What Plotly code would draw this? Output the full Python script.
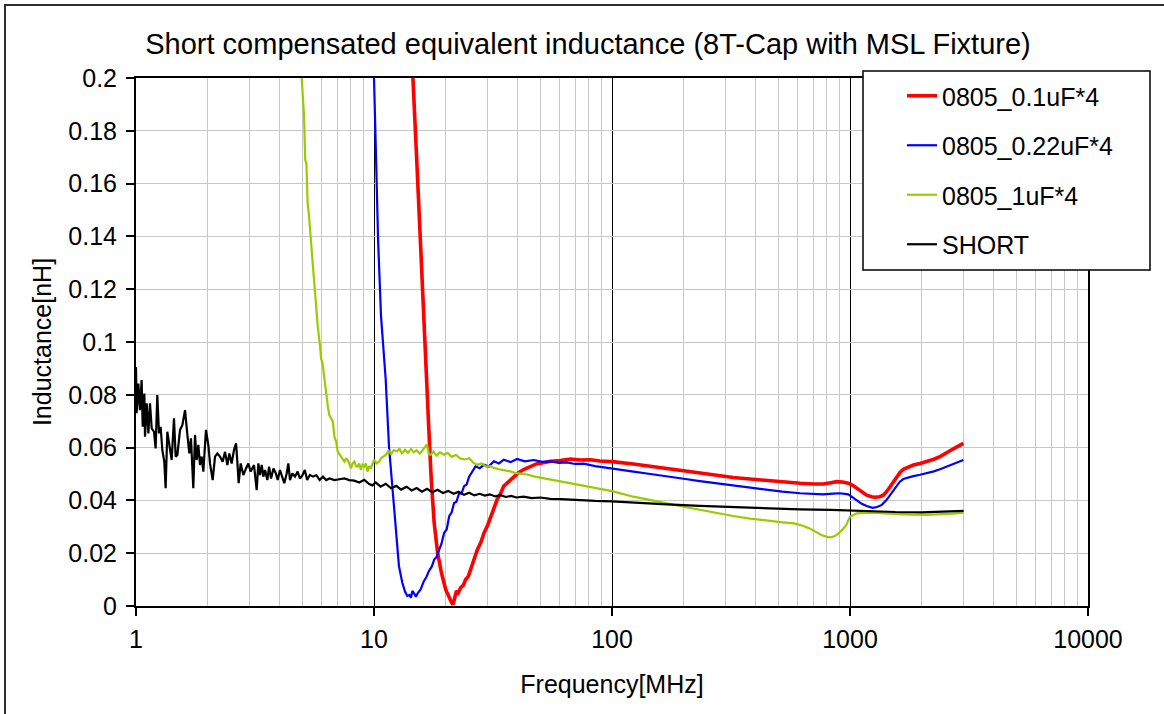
import plotly.graph_objects as go

# ---- Measured equivalent inductance [nH] vs frequency [MHz] ----

freq_01uF = [14.4, 14.6, 15.1, 15.6, 16.1, 16.6, 17.0, 17.4, 17.9, 18.5, 19.2, 20.0, 20.5, 20.9, 21.2,
             21.5, 21.8, 22.2, 22.6, 23.1, 23.7, 24.3, 24.9, 25.5, 26.3, 27.2, 28.1, 29.0, 30.0, 30.9,
             31.9, 32.9, 34.0, 35.1, 36.8, 38.6, 40.5, 42.5, 45.3, 48.4, 51.6, 55.1, 60.7, 66.8, 73.6,
             81.1, 89, 100, 123, 145, 170, 200, 234, 280, 323, 380, 447, 520, 617, 700, 773, 830, 879,
             930, 984, 1030, 1067, 1120, 1175, 1230, 1274, 1330, 1381, 1430, 1472, 1520, 1571, 1620,
             1675, 1760, 1846, 1970, 2100, 2250, 2389, 2500, 2632, 2800, 2994]
ind_01uF = [0.21, 0.2, 0.17, 0.142, 0.112, 0.0857, 0.0668, 0.0479, 0.0315, 0.0202, 0.0126, 0.0063,
            0.0040, 0.0025, 0.0012, 0.0006, 0.0030, 0.0057, 0.0050, 0.0069, 0.0078, 0.0101, 0.0112,
            0.0139, 0.0170, 0.0214, 0.0240, 0.0277, 0.0305, 0.0340, 0.0370, 0.0403, 0.0425, 0.0454,
            0.0472, 0.0490, 0.0505, 0.0517, 0.0528, 0.0539, 0.0543, 0.0548, 0.0551, 0.0557, 0.0553,
            0.0554, 0.0549, 0.0547, 0.0538, 0.0531, 0.0521, 0.0512, 0.0503, 0.0495, 0.0487, 0.0481,
            0.0475, 0.0470, 0.0465, 0.0462, 0.0462, 0.0467, 0.0471, 0.0470, 0.0465, 0.0456, 0.0446,
            0.0432, 0.0420, 0.0414, 0.0412, 0.0414, 0.0420, 0.0435, 0.0452, 0.0472, 0.0490, 0.0505,
            0.0518, 0.0527, 0.0534, 0.0540, 0.0547, 0.0556, 0.0566, 0.0575, 0.0588, 0.0602, 0.0616]

freq_022uF = [9.9, 10.0, 10.2, 10.4, 10.7, 11.2, 11.56, 11.94, 12.33, 12.73, 13.15, 13.5, 13.8, 14.1,
              14.3, 14.5, 14.8, 15.0, 15.3, 15.7, 16.2, 16.6, 17.0, 17.5, 17.9, 18.3, 18.8, 19.2, 19.7,
              20.2, 20.7, 21.2, 21.7, 22.2, 22.8, 23.3, 23.9, 24.5, 25.1, 25.9, 26.7, 27.8, 29.0, 30.3,
              31.9, 33.5, 35.1, 37.5, 39.9, 43, 46.9, 51, 55.1, 60, 64.7, 70, 76.0, 85, 100, 123, 145,
              170, 200, 234, 280, 323, 380, 447, 520, 617, 700, 773, 850, 907, 984, 1030, 1067, 1120,
              1175, 1244, 1300, 1360, 1420, 1472, 1520, 1571, 1620, 1675, 1760, 1846, 1970, 2100, 2250,
              2389, 2500, 2632, 2800, 2994]
ind_022uF = [0.21, 0.2, 0.17, 0.139, 0.11, 0.0857, 0.0605, 0.0441, 0.0290, 0.0151, 0.0088, 0.0055,
             0.0038, 0.0042, 0.0031, 0.0057, 0.0045, 0.0035, 0.0050, 0.0063, 0.0094, 0.0110, 0.0132,
             0.0150, 0.0176, 0.0185, 0.0214, 0.0235, 0.0277, 0.0290, 0.0340, 0.0355, 0.0390, 0.0395,
             0.0428, 0.0425, 0.0454, 0.0460, 0.0490, 0.0510, 0.0529, 0.0522, 0.0535, 0.0528, 0.0548,
             0.0540, 0.0554, 0.0545, 0.0557, 0.0548, 0.0553, 0.0546, 0.0548, 0.0542, 0.0544, 0.0538,
             0.0539, 0.0530, 0.0522, 0.0509, 0.0500, 0.0490, 0.0482, 0.0473, 0.0464, 0.0455, 0.0447,
             0.0439, 0.0433, 0.0427, 0.0424, 0.0423, 0.0426, 0.0427, 0.0423, 0.0410, 0.0399, 0.0387,
             0.0379, 0.0372, 0.0375, 0.0383, 0.0400, 0.0420, 0.0440, 0.0458, 0.0471, 0.0481, 0.0487,
             0.0492, 0.0497, 0.0503, 0.0510, 0.0518, 0.0525, 0.0534, 0.0543, 0.0553]

freq_1uF = [4.85, 4.96, 5.02, 5.08, 5.14, 5.2, 5.26, 5.33, 5.47, 5.6, 5.69, 5.8, 5.93, 6.0, 6.08, 6.2,
            6.3, 6.4, 6.49, 6.6, 6.71, 6.82, 6.94, 7.04, 7.15, 7.27, 7.4, 7.51, 7.63, 7.75, 7.88, 8.0,
            8.13, 8.27, 8.4, 8.53, 8.67, 8.81, 8.95, 9.1, 9.25, 9.39, 9.55, 9.7, 9.85, 10.0, 10.25, 10.5,
            10.7, 10.9, 11.2, 11.5, 11.8, 12.1, 12.5, 12.8, 13.1, 13.5, 13.9, 14.3, 14.7, 15.1, 15.6,
            16.1, 16.7, 17.0, 17.3, 17.8, 18.3, 18.9, 19.7, 20.4, 21.2, 22.1, 23.1, 24.1, 25.1, 26.2,
            27.2, 28.3, 29.5, 30.7, 31.9, 33.5, 35.3, 37.4, 39.5, 41.8, 44.0, 47.5, 51.6, 56, 60.7, 66,
            71.3, 77, 83.8, 92, 100, 123, 145, 170, 200, 234, 280, 323, 380, 447, 510, 581, 630, 677,
            720, 758, 800, 830, 860, 890, 930, 965, 1000, 1030, 1067, 1150, 1244, 1400, 1556, 1800,
            2100, 2400, 2700, 3000]
ind_1uF = [0.215, 0.2, 0.19, 0.186, 0.169, 0.1676, 0.153, 0.148, 0.135, 0.122, 0.1149, 0.106, 0.0986,
           0.0935, 0.0919, 0.0850, 0.0800, 0.0755, 0.0723, 0.0710, 0.0700, 0.0641, 0.0622, 0.0585,
           0.0575, 0.0566, 0.0555, 0.0547, 0.0558, 0.0553, 0.0538, 0.0521, 0.0540, 0.0547, 0.0530,
           0.0528, 0.0540, 0.0515, 0.0535, 0.0528, 0.0540, 0.0509, 0.0530, 0.0521, 0.0538, 0.0553,
           0.0540, 0.0547, 0.0560, 0.0566, 0.0572, 0.0588, 0.0575, 0.0590, 0.0586, 0.0595, 0.0578,
           0.0592, 0.0580, 0.0595, 0.0582, 0.0590, 0.0577, 0.0593, 0.0612, 0.0575, 0.0573, 0.0585,
           0.0570, 0.0582, 0.0573, 0.0580, 0.0565, 0.0572, 0.0558, 0.0555, 0.0560, 0.0542, 0.0535,
           0.0540, 0.0528, 0.0530, 0.0523, 0.0518, 0.0515, 0.0510, 0.0503, 0.0501, 0.0498, 0.0490,
           0.0485, 0.0478, 0.0472, 0.0466, 0.0460, 0.0452, 0.0447, 0.0440, 0.0435, 0.0414, 0.0400,
           0.0389, 0.0376, 0.0364, 0.0352, 0.0341, 0.0331, 0.0323, 0.0318, 0.0313, 0.0305, 0.0294,
           0.0281, 0.0269, 0.0262, 0.0260, 0.0264, 0.0273, 0.0290, 0.0307, 0.0338, 0.0345, 0.0351,
           0.0353, 0.0354, 0.0351, 0.0348, 0.0346, 0.0345, 0.0347, 0.0350, 0.0354]

freq_short = [1.0, 1.006, 1.023, 1.039, 1.056, 1.067, 1.084, 1.091, 1.109, 1.127, 1.145, 1.164, 1.19,
              1.209, 1.229, 1.249, 1.269, 1.29, 1.315, 1.332, 1.354, 1.38, 1.412, 1.444, 1.468, 1.492,
              1.531, 1.566, 1.607, 1.644, 1.675, 1.702, 1.741, 1.77, 1.798, 1.828, 1.857, 1.887, 1.918,
              1.968, 2.013, 2.046, 2.1, 2.148, 2.197, 2.254, 2.313, 2.366, 2.42, 2.467, 2.523, 2.58,
              2.632, 2.666, 2.7, 2.753, 2.825, 2.899, 2.965, 3.033, 3.132, 3.214, 3.266, 3.32, 3.374,
              3.429, 3.485, 3.564, 3.622, 3.694, 3.78, 3.869, 3.937, 4.027, 4.121, 4.198, 4.296, 4.366,
              4.437, 4.54, 4.656, 4.776, 4.884, 5.009, 5.122, 5.238, 5.373, 5.547, 5.726, 5.911, 6.102,
              6.299, 6.502, 6.822, 7.157, 7.509, 7.878, 8.265, 8.671, 9.097, 9.545, 9.85, 10.16, 10.66,
              11.2, 11.8, 12.4, 13.0, 13.7, 14.4, 15.1, 15.9, 16.7, 17.6, 18.5, 19.5, 20.5, 21.6, 22.7,
              23.9, 25.1, 26.4, 27.8, 29.2, 30.7, 32.3, 34.0, 35.8, 37.7, 39.6, 42.5, 46, 50, 55, 61,
              68, 76, 85, 100, 123, 170, 234, 323, 447, 617, 830, 1000, 1250, 1550, 2000, 2500, 3000]
ind_short = [0.0905, 0.0730, 0.0843, 0.0742, 0.0856, 0.0679, 0.0805, 0.0641, 0.0768, 0.0654, 0.0768,
             0.0673, 0.0660, 0.0597, 0.0799, 0.0654, 0.0679, 0.0591, 0.0546, 0.0446, 0.0660, 0.0603,
             0.0553, 0.0711, 0.0566, 0.0572, 0.0667, 0.0685, 0.0742, 0.0648, 0.0578, 0.0635, 0.0446,
             0.0648, 0.0553, 0.0610, 0.0534, 0.0566, 0.0509, 0.0667, 0.0610, 0.0540, 0.0477, 0.0566,
             0.0578, 0.0566, 0.0546, 0.0584, 0.0534, 0.0578, 0.0540, 0.0591, 0.0616, 0.0546, 0.0465,
             0.0540, 0.0496, 0.0521, 0.0540, 0.0509, 0.0534, 0.0439, 0.0540, 0.0496, 0.0534, 0.0490,
             0.0515, 0.0477, 0.0528, 0.0483, 0.0521, 0.0502, 0.0477, 0.0515, 0.0490, 0.0465, 0.0502,
             0.0540, 0.0477, 0.0502, 0.0490, 0.0509, 0.0483, 0.0496, 0.0515, 0.0477, 0.0496, 0.0490,
             0.0496, 0.0477, 0.0490, 0.0477, 0.0483, 0.0477, 0.0480, 0.0483, 0.0477, 0.0475, 0.0468,
             0.0478, 0.0462, 0.0457, 0.0468, 0.0452, 0.0463, 0.0446, 0.0455, 0.0441, 0.0452, 0.0438,
             0.0447, 0.0433, 0.0444, 0.0431, 0.0440, 0.0428, 0.0436, 0.0425, 0.0433, 0.0421, 0.0429,
             0.0419, 0.0425, 0.0418, 0.0423, 0.0415, 0.0420, 0.0413, 0.0417, 0.0411, 0.0414, 0.0409,
             0.0411, 0.0406, 0.0405, 0.0402, 0.0401, 0.0398, 0.0396, 0.0391, 0.0385, 0.0379, 0.0374,
             0.0370, 0.0366, 0.0364, 0.0361, 0.0358, 0.0356, 0.0355, 0.0357, 0.0360]

series_names = ["0805_0.1uF*4", "0805_0.22uF*4", "0805_1uF*4", "SHORT"]
series_freqs = [freq_01uF, freq_022uF, freq_1uF, freq_short]
series_vals = [ind_01uF, ind_022uF, ind_1uF, ind_short]
series_colors = ["#FF0000", "#0000FF", "#99CC00", "#000000"]
series_widths = [3.6, 2.2, 2.2, 2.2]

x_tick_vals = [1, 10, 100, 1000, 10000]
x_tick_text = ["1", "10", "100", "1000", "10000"]
y_tick_vals = [0, 0.02, 0.04, 0.06, 0.08, 0.1, 0.12, 0.14, 0.16, 0.18, 0.2]
y_tick_text = ["0", "0.02", "0.04", "0.06", "0.08", "0.1", "0.12", "0.14", "0.16", "0.18", "0.2"]

FONT = "Liberation Sans, Arial, sans-serif"
W, H = 1164, 714
L, R, T, B = 136, 76, 78, 108
PW, PH = W - L - R, H - T - B


def px_x(p):
    return (p - L) / PW


def px_y(p):
    return (H - B - p) / PH


# minor gridlines at 2..9 within each decade
minor_vals = [m * 10 ** d for d in range(4) for m in range(2, 10)]

fig = go.Figure()
for name, f, v, c, w in zip(series_names, series_freqs, series_vals, series_colors, series_widths):
    fig.add_trace(go.Scatter(x=f, y=v, mode="lines", name=name, legendgroup=name,
                             line=dict(color=c, width=w)))

fig.update_layout(
    width=W, height=H,
    margin=dict(l=L, r=R, t=T, b=B),
    paper_bgcolor="white", plot_bgcolor="white",
    font=dict(family=FONT, size=25, color="black"),
    title=dict(text="Short compensated equivalent inductance (8T-Cap with MSL Fixture)",
               font=dict(size=29), xref="paper", x=px_x(588), xanchor="center",
               yref="container", y=1 - 44 / H, yanchor="middle"),
    showlegend=True,
    legend=dict(x=px_x(902), y=px_y(73), xanchor="left", yanchor="top",
                bgcolor="rgba(0,0,0,0)", borderwidth=0, font=dict(size=25),
                tracegroupgap=14),
    xaxis=dict(type="log", range=[0, 4], tickmode="array", tickvals=x_tick_vals, ticktext=x_tick_text,
               showgrid=True, gridcolor="#000000", gridwidth=1,
               minor=dict(tickmode="array", tickvals=minor_vals, showgrid=True,
                          gridcolor="#c8c8c8", gridwidth=1, ticks=""),
               showline=True, linecolor="black", linewidth=2, mirror=True,
               ticks="outside", ticklen=8, tickwidth=1.5, tickcolor="black",
               ticklabelstandoff=2,
               title=dict(text="Frequency[MHz]", font=dict(size=25), standoff=23),
               zeroline=False),
    yaxis=dict(range=[0, 0.2], tickmode="array", tickvals=y_tick_vals, ticktext=y_tick_text,
               showgrid=True, gridcolor="#c8c8c8", gridwidth=1,
               showline=True, linecolor="black", linewidth=2, mirror=True,
               ticks="outside", ticklen=8, tickwidth=1.5, tickcolor="black",
               ticklabelstandoff=4,
               title=dict(text="Inductance[nH]", font=dict(size=25), standoff=10),
               zeroline=False),
    shapes=[
        # chart frame
        dict(type="rect", xref="paper", yref="paper", x0=px_x(5), y0=px_y(5), x1=px_x(W + 20),
             y1=px_y(H + 20), line=dict(color="#303030", width=2), layer="below"),
        # legend frame
        dict(type="rect", xref="paper", yref="paper", x0=px_x(863), y0=px_y(71), x1=px_x(1150),
             y1=px_y(270), line=dict(color="black", width=1.5), fillcolor="white", layer="above"),
    ],
)

fig.write_html("out.html")
